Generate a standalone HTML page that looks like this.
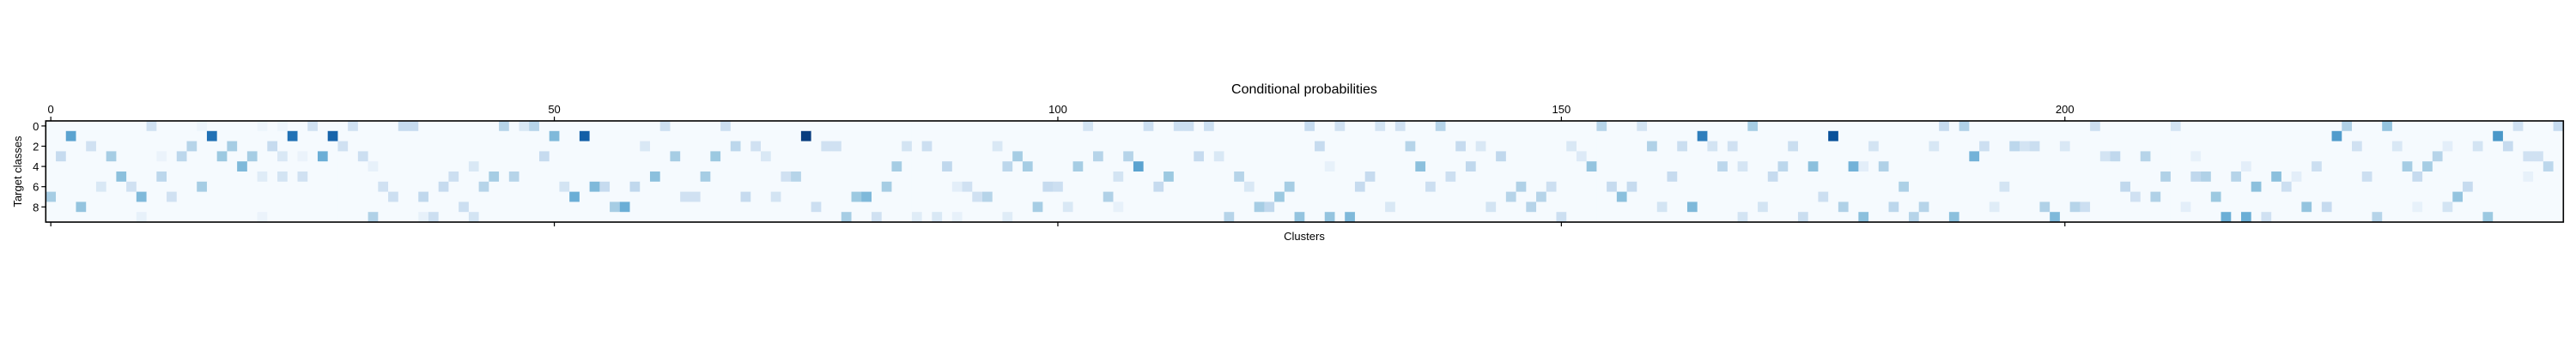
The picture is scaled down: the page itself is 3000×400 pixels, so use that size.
<!DOCTYPE html>
<html><head><meta charset="utf-8"><style>
html,body{margin:0;padding:0;background:#fff;}
svg{display:block;font-family:"Liberation Sans","DejaVu Sans",sans-serif;}
</style></head><body>
<svg id="chart" width="3000" height="400" viewBox="0 0 3000 400" xmlns="http://www.w3.org/2000/svg">
<text x="1519" y="109" font-size="16" text-anchor="middle" fill="#000">Conditional probabilities</text>
<g id="cells"></g>
<g id="axes"></g>
<text x="1519" y="280" font-size="13" text-anchor="middle" fill="#000">Clusters</text>
<text transform="translate(25,200) rotate(-90)" font-size="13" text-anchor="middle" fill="#000">Target classes</text>
</svg>
<script>
const nCols = 250;
const nRows = 10;
const baseValue = 0.008;
const xTicks = [0, 50, 100, 150, 200];
const yTicks = [0, 2, 4, 6, 8];
const cellCol = [10,15,21,23,26,2,16,24,28,4,14,18,22,29,1,6,11,13,17,20,23,25,27,19,7,11,21,23,25,5,8,15,0,9,12,3,9,21,
30,35,36,45,47,48,50,31,49,32,42,40,44,46,33,39,43,34,37,41,32,37,38,42,
61,67,53,59,68,70,62,66,71,60,65,51,54,55,58,52,63,64,69,56,57,
75,77,78,85,87,84,89,73,74,83,90,91,72,80,81,92,76,79,82,86,88,90,
103,109,112,113,94,96,104,107,95,97,102,108,106,111,99,100,110,93,105,98,101,106,95,
115,125,128,132,134,126,114,116,127,118,131,119,123,130,122,120,121,133,117,124,127,129,
138,154,135,140,142,151,144,152,136,141,153,139,137,146,149,155,145,148,143,147,150,
158,169,164,159,162,165,167,173,166,168,172,175,161,171,157,156,176,160,163,170,168,174,
188,190,177,181,187,192,195,196,197,191,179,180,182,184,194,178,183,186,193,180,185,189,
203,211,200,204,205,208,213,218,210,213,214,217,206,207,209,215,198,201,202,212,199,216,218,
228,232,227,229,233,238,237,225,234,236,221,223,230,235,219,222,239,224,226,235,238,220,231,
245,249,243,241,244,246,247,248,246,240,242];
const cellRow = [0,0,0,0,0,1,1,1,1,2,2,2,2,2,3,3,3,3,3,3,3,3,3,4,5,5,5,5,5,6,6,6,7,7,7,8,9,9,
0,0,0,0,0,0,1,3,3,4,4,5,5,5,6,6,6,7,7,8,9,9,9,9,
0,0,1,2,2,2,3,3,3,5,5,6,6,6,6,7,7,7,7,8,8,
1,2,2,2,2,4,4,5,5,6,6,6,7,7,7,7,8,9,9,9,9,9,
0,0,0,0,2,3,3,3,4,4,4,4,5,5,6,6,6,7,7,8,8,8,9,
0,0,0,0,0,2,3,3,4,5,5,6,6,6,7,8,8,8,9,9,9,9,
0,0,2,2,2,2,3,3,4,4,4,5,6,6,6,6,7,7,8,8,9,
0,0,1,2,2,2,2,2,4,4,4,4,5,5,6,7,7,8,8,8,9,9,
0,0,1,2,2,2,2,2,2,3,4,4,4,6,6,8,8,8,8,9,9,9,
0,0,2,3,3,3,3,4,5,5,5,5,6,7,7,7,8,8,8,8,9,9,9,
0,0,1,2,2,2,3,4,4,4,5,5,5,5,6,6,7,8,8,8,8,9,9,
0,0,1,2,2,3,3,4,5,6,9];
const cellVal = [.2,.05,.05,.05,.2,.55,.75,.75,.8,.2,.3,.35,.25,.2,.25,.35,.06,.28,.38,.35,.15,.06,.5,.45,.42,.28,.12,.18,.2,.15,.2,.35,.35,.45,.2,.4,.08,.06,
.2,.25,.25,.3,.15,.3,.45,.22,.25,.08,.15,.22,.35,.3,.2,.25,.3,.22,.27,.22,.32,.08,.22,.18,
.22,.22,.82,.15,.28,.2,.35,.38,.15,.42,.35,.18,.45,.25,.27,.5,.2,.2,.25,.35,.5,
.95,.2,.2,.18,.22,.35,.27,.2,.3,.35,.1,.2,.18,.38,.45,.2,.22,.35,.2,.12,.15,.08,
.18,.22,.22,.22,.15,.35,.3,.3,.28,.35,.35,.55,.18,.38,.25,.22,.25,.3,.32,.35,.15,.08,.12,
.22,.25,.2,.18,.2,.25,.25,.15,.08,.3,.25,.15,.35,.25,.38,.35,.27,.15,.3,.4,.4,.45,
.3,.3,.3,.25,.15,.15,.27,.13,.42,.27,.4,.22,.22,.32,.22,.25,.3,.3,.18,.3,.22,
.18,.35,.7,.32,.23,.18,.2,.23,.28,.17,.28,.42,.25,.25,.25,.42,.22,.18,.45,.18,.18,.23,
.25,.32,.88,.18,.16,.22,.28,.18,.23,.48,.48,.1,.32,.33,.18,.32,.28,.3,.12,.42,.3,.42,
.22,.18,.15,.18,.27,.3,.08,.1,.32,.27,.32,.3,.27,.2,.32,.38,.32,.3,.22,.1,.45,.5,.5,
.32,.4,.58,.2,.15,.1,.3,.22,.35,.35,.42,.1,.22,.25,.42,.22,.4,.4,.25,.08,.18,.2,.3,
.2,.25,.6,.18,.25,.2,.2,.28,.08,.25,.38];

const NS = "http://www.w3.org/2000/svg";
const plotL = 53.3, plotT = 141, plotW = 2932, plotH = 118;
const cw = plotW / nCols, ch = plotH / nRows;
function xPos(c){ return plotL + c * cw; }
function yPos(r){ return plotT + r * ch; }
const stops = ["#f7fbff","#deebf7","#c6dbef","#9ecae1","#6baed6","#4292c6","#2171b5","#08519c","#08306b"];
function hex(h){ return [1,3,5].map(i=>parseInt(h.substr(i,2),16)); }
function blues(v){
  v = Math.max(0, Math.min(1, v));
  const p = v * (stops.length - 1), i = Math.min(stops.length - 2, Math.floor(p)), t = p - i;
  const a = hex(stops[i]), b = hex(stops[i+1]);
  return "rgb(" + a.map((x,k)=>Math.round(x + (b[k]-x)*t)).join(",") + ")";
}
const matrix = [];
for (let r = 0; r < nRows; r++) { matrix.push(new Array(nCols).fill(baseValue)); }
for (let i = 0; i < cellCol.length; i++) { matrix[cellRow[i]][cellCol[i]] = cellVal[i]; }
const g = document.getElementById("cells");
for (let r = 0; r < nRows; r++) {
  for (let c = 0; c < nCols; c++) {
    const rect = document.createElementNS(NS, "rect");
    rect.setAttribute("x", xPos(c).toFixed(2));
    rect.setAttribute("y", yPos(r).toFixed(2));
    rect.setAttribute("width", (cw + 0.4).toFixed(2));
    rect.setAttribute("height", (ch + 0.4).toFixed(2));
    rect.setAttribute("fill", blues(matrix[r][c]));
    
    
    g.appendChild(rect);
  }
}
const ax = document.getElementById("axes");
const frame = document.createElementNS(NS, "rect");
frame.setAttribute("x", plotL); frame.setAttribute("y", plotT);
frame.setAttribute("width", plotW); frame.setAttribute("height", plotH);
frame.setAttribute("fill", "none"); frame.setAttribute("stroke", "#000"); frame.setAttribute("stroke-width", "1.6");


ax.appendChild(frame);
xTicks.forEach(t => {
  const x = xPos(t) + cw / 2;
  [[plotT - 5, plotT], [plotT + plotH, plotT + plotH + 5]].forEach(([y1, y2]) => {
    const l = document.createElementNS(NS, "line");
    l.setAttribute("x1", x); l.setAttribute("x2", x); l.setAttribute("y1", y1); l.setAttribute("y2", y2);
    l.setAttribute("stroke", "#000"); l.setAttribute("stroke-width", "1.2");
    
    
    ax.appendChild(l);
  });
  const tx = document.createElementNS(NS, "text");
  tx.setAttribute("x", x); tx.setAttribute("y", plotT - 9);
  tx.setAttribute("font-size", "13"); tx.setAttribute("text-anchor", "middle");
  tx.textContent = t;
  
  
  ax.appendChild(tx);
});
yTicks.forEach(t => {
  const y = yPos(t) + ch / 2;
  const l = document.createElementNS(NS, "line");
  l.setAttribute("x1", plotL - 5); l.setAttribute("x2", plotL); l.setAttribute("y1", y); l.setAttribute("y2", y);
  l.setAttribute("stroke", "#000"); l.setAttribute("stroke-width", "1.2");
  
  
  ax.appendChild(l);
  const tx = document.createElementNS(NS, "text");
  tx.setAttribute("x", plotL - 8); tx.setAttribute("y", y + 5);
  tx.setAttribute("font-size", "13"); tx.setAttribute("text-anchor", "end");
  tx.textContent = t;
  
  
  ax.appendChild(tx);
});
</script>
</body></html>
